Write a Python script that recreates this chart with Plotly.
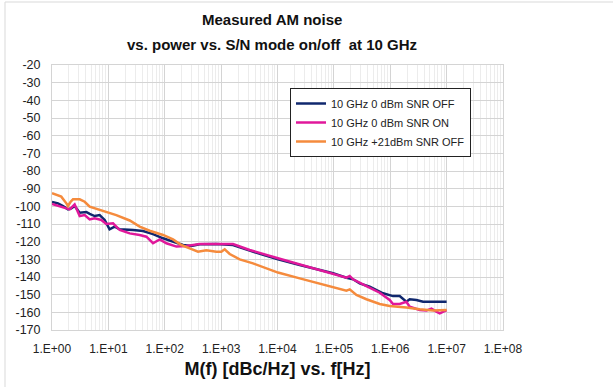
import plotly.graph_objects as go

# ---- data ----
freq_off0 = [1, 1.28, 1.57, 1.92, 2.20, 2.52, 3.10, 4.06, 4.66, 5.71, 7.01, 8.60, 10.5, 12.9, 15.9,
             20.8, 27.4, 41.1, 61.9, 93.2, 140, 211, 296, 417, 823, 1626, 3212, 10200, 24800,
             96600, 167000, 219000, 287000, 432000, 745000, 1.12e6, 1.47e6, 1.93e6, 2.21e6,
             2.91e6, 3.82e6, 1e7]
noise_off0 = [-97.5, -98.3, -99.8, -101.7, -101.1, -99.8, -103.6, -103.2, -104.3, -105.5, -104.9,
              -107.7, -113.0, -111.5, -113.0, -113.0, -113.4, -114.0, -115.7, -118.1, -120.0,
              -121.9, -122.5, -121.5, -121.3, -121.9, -125.1, -130.0, -133.2, -137.9, -140.4,
              -141.3, -143.6, -145.5, -149.2, -150.8, -150.8, -154.0, -152.6, -153.0, -154.0, -154.0]

freq_on0 = [1, 1.28, 1.68, 2.06, 2.52, 3.10, 3.80, 4.66, 5.71, 7.50, 9.20, 12.1, 15.9, 23.9, 35.9,
            47.2, 61.9, 81.3, 107, 161, 242, 417, 1626, 3212, 10200, 96600, 167000, 191000,
            219000, 378000, 650000, 977000, 1.12e6, 1.47e6, 1.93e6, 2.21e6, 3.33e6, 4.38e6,
            5.37e6, 6.58e6, 7.55e6, 1e7]
noise_on0 = [-98.7, -99.8, -101.1, -101.7, -98.9, -105.5, -104.9, -107.4, -106.8, -107.7, -110.0,
             -109.6, -113.4, -115.3, -116.2, -117.2, -120.9, -118.7, -120.9, -122.8, -122.5,
             -121.3, -121.3, -124.7, -129.4, -137.9, -140.4, -139.4, -141.3, -145.1, -148.9,
             -153.0, -155.3, -155.3, -154.0, -156.8, -158.7, -159.0, -157.9, -159.6, -160.6, -158.7]

freq_p21 = [1, 1.46, 1.80, 1.92, 2.14, 2.36, 3.10, 3.80, 4.66, 7.01, 9.85, 13.8, 23.9, 35.9, 54.0,
            93.2, 140, 197, 277, 389, 547, 823, 1009, 1156, 1420, 2135, 3680, 6350, 10200, 24800,
            56100, 96600, 167000, 191000, 251000, 378000, 650000, 977000, 1.93e6, 3.33e6,
            5.74e6, 1e7]
noise_p21 = [-92.6, -94.5, -98.3, -99.8, -97.4, -96.0, -96.0, -97.4, -100.2, -102.0, -103.6,
             -105.0, -108.0, -111.5, -113.8, -116.2, -118.7, -121.9, -123.8, -125.7, -124.8,
             -125.7, -125.7, -124.3, -127.0, -130.0, -132.3, -135.1, -137.5, -140.8, -143.6,
             -145.5, -147.7, -147.0, -150.2, -152.6, -155.3, -156.4, -157.2, -158.3, -159.0, -158.7]

series_names = ["10 GHz 0 dBm SNR OFF", "10 GHz 0 dBm SNR ON", "10 GHz +21dBm SNR OFF"]
series_colors = ["#10286e", "#e0189b", "#f58b3d"]

x_tickvals = [1, 10, 100, 1e3, 1e4, 1e5, 1e6, 1e7, 1e8]
x_ticktext = ["1.E+00", "1.E+01", "1.E+02", "1.E+03", "1.E+04", "1.E+05", "1.E+06", "1.E+07", "1.E+08"]
y_tickvals = [-20, -30, -40, -50, -60, -70, -80, -90, -100, -110, -120, -130, -140, -150, -160, -170]
y_ticktext = ["-20", "-30", "-40", "-50", "-60", "-70", "-80", "-90", "-100", "-110", "-120",
              "-130", "-140", "-150", "-160", "-170"]
title_lines = ["Measured AM noise", "vs. power vs. S/N mode on/off  at 10 GHz"]

fig = go.Figure()
for fx, ny, name, col in zip([freq_off0, freq_on0, freq_p21],
                             [noise_off0, noise_on0, noise_p21],
                             series_names, series_colors):
    fig.add_trace(go.Scatter(x=fx, y=ny, mode="lines", name=name,
                             line=dict(color=col, width=2.5)))

W, H = 613, 387
L, R, T, B = 52, 110, 65, 57
pw, ph = W - L - R, H - T - B

def px_x(px):
    return (px - L) / pw

def px_y(py):
    return (H - B - py) / ph

fig.update_layout(
    width=W, height=H,
    margin=dict(l=L, r=R, t=T, b=B),
    paper_bgcolor="white", plot_bgcolor="white",
    font=dict(family="Liberation Sans, Arial, sans-serif", size=12, color="#222222"),
    legend=dict(
        x=px_x(290), y=px_y(88), xanchor="left", yanchor="top",
        bgcolor="white", bordercolor="#222222", borderwidth=1,
        font=dict(size=11, family="Liberation Sans, sans-serif", color="#222222"),
        tracegroupgap=0,
    ),
    showlegend=True,
)

for txt, yc in zip(title_lines, [19, 44]):
    fig.add_annotation(text="<b>" + txt + "</b>", xref="paper", yref="paper",
                       x=px_x(272), y=px_y(yc), xanchor="center", yanchor="middle",
                       showarrow=False,
                       font=dict(family="Liberation Sans, Arial, sans-serif", size=15, color="#111111"))

fig.update_xaxes(
    type="log", range=[0, 8],
    tickvals=x_tickvals, ticktext=x_ticktext,
    showgrid=True, gridcolor="#d4d4d4", gridwidth=1,
    minor=dict(showgrid=True, gridcolor="#ececec", dtick="D1", ticks=""),
    showline=True, linecolor="#d4d4d4", mirror=True,
    zeroline=False, ticks="", ticklabelstandoff=8,
    tickfont=dict(size=12),
    title=dict(text="<b>M(f) [dBc/Hz] vs. f[Hz]</b>", standoff=6,
               font=dict(size=18, family="Liberation Sans, Arial, sans-serif", color="#111111")),
)
fig.update_yaxes(
    range=[-170, -20], tickvals=y_tickvals, ticktext=y_ticktext,
    showgrid=True, gridcolor="#d4d4d4", gridwidth=1,
    showline=True, linecolor="#d4d4d4", mirror=True,
    zeroline=False, ticks="", ticklabelstandoff=8,
    tickfont=dict(size=12.5),
)

# outer chart border (light grey frame)
fig.add_shape(type="rect", xref="paper", yref="paper",
              x0=px_x(5), x1=px_x(W + 10), y0=px_y(H + 10), y1=px_y(2),
              line=dict(color="#d9d9d9", width=1), layer="below")

fig.write_html("out.html")
